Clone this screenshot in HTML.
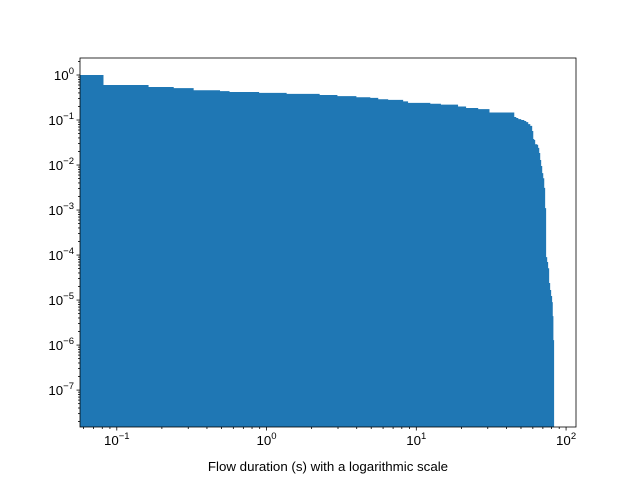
<!DOCTYPE html>
<html><head><meta charset="utf-8"><style>
body{margin:0;background:#fff}
svg{display:block;font-family:"Liberation Sans","DejaVu Sans",sans-serif}
</style></head><body>
<svg id="chart" width="640" height="480" xmlns="http://www.w3.org/2000/svg">
<rect width="640" height="480" fill="#fff"/>
<defs><clipPath id="clip"><rect x="80" y="58" width="496" height="369"/></clipPath></defs>
<g id="plot" clip-path="url(#clip)"></g>
<g id="axes"></g>
<text x="328" y="471" text-anchor="middle" font-size="13.3">Flow duration (s) with a logarithmic scale</text>
</svg>
<script>
const binEdges=[0.0527,0.0815,0.163,0.240,0.326,0.489,0.566,0.892,1.362,2.263,2.973,3.98,4.93,5.57,6.49,8.17,8.81,12.4,14.6,19.0,21.5,25.9,30.8,45.1,46.5,48.0,50.2,52.6,54.2,55.9,57.7,59.4,60.4,61.3,62.2,64.2,65.1,66.2,67.2,68.2,69.3,70.4,71.5,72.5,73.6,74.8,75.9,77.1,78.3,79.5,80.7,81.5,82.3,83.2];
const binValues=[1.0,0.60,0.54,0.51,0.46,0.44,0.42,0.40,0.38,0.36,0.34,0.32,0.31,0.29,0.28,0.26,0.24,0.23,0.22,0.20,0.185,0.175,0.147,0.117,0.111,0.105,0.1,0.095,0.09,0.081,0.074,0.057,0.038,0.036,0.029,0.028,0.024,0.0185,0.0129,0.0095,0.0066,0.0051,0.0031,0.0011,9e-5,7e-5,5.1e-5,2.4e-5,1.67e-5,1.23e-5,9e-6,4.4e-6,1.29e-6];
const xTickValues=[0.1,1,10,100];
const xTickExps=["−1","0","1","2"];
const yTickValues=[1,0.1,0.01,1e-3,1e-4,1e-5,1e-6,1e-7];
const yTickExps=["0","−1","−2","−3","−4","−5","−6","−7"];

const L=80,R=576,T=58,B=427;
const xMin=Math.log10(0.0568),xMax=Math.log10(116.5);
const yMin=-7.82,yMax=0.378;
const sx=v=>L+(Math.log10(v)-xMin)/(xMax-xMin)*(R-L);
const sy=v=>B-(Math.log10(v)-yMin)/(yMax-yMin)*(B-T);
const NS="http://www.w3.org/2000/svg";
const plot=document.getElementById('plot'),axes=document.getElementById('axes');
function mk(tag,attrs,parent){const e=document.createElementNS(NS,tag);for(const k in attrs)e.setAttribute(k,attrs[k]);parent.appendChild(e);return e;}

const n=Math.min(binValues.length,binEdges.length-1);
let d=`M${sx(binEdges[0])},${B+5}`;
for(let i=0;i<n;i++){d+=`L${sx(binEdges[i])},${sy(binValues[i])}L${sx(binEdges[i+1])},${sy(binValues[i])}`;}
d+=`L${sx(binEdges[n])},${B+5}Z`;
const p=mk('path',{d:d,fill:'#1f77b4'},plot);



for(let e=-2;e<=2;e++){for(let m=1;m<10;m++){const v=m*Math.pow(10,e);const x=sx(v);if(x<L||x>R)continue;
 const t=mk('line',{x1:x,x2:x,y1:B,y2:B+(m===1?3.5:2),stroke:'#000','stroke-width':0.8},axes);
 
 }}
xTickValues.forEach((v,i)=>{const x=sx(v);const tx=mk('text',{x:x,y:B+18,'text-anchor':'middle','font-size':13.3},axes);
 
 
 tx.innerHTML=`10<tspan dy="-6" font-size="9.5">${xTickExps[i]}</tspan>`;});
for(let e=-8;e<=0;e++){for(let m=1;m<10;m++){const v=m*Math.pow(10,e);const y=sy(v);if(y<T||y>B)continue;
 const t=mk('line',{x1:L-(m===1?3.5:2),x2:L,y1:y,y2:y,stroke:'#000','stroke-width':0.8},axes);
 
 }}
yTickValues.forEach((v,i)=>{const y=sy(v);const tx=mk('text',{x:L-6,y:y+5,'text-anchor':'end','font-size':13.3},axes);
 
 
 tx.innerHTML=`10<tspan dy="-6" font-size="9.5">${yTickExps[i]}</tspan>`;});
const fr=mk('rect',{x:L,y:T,width:R-L,height:B-T,fill:'none',stroke:'#000','stroke-width':0.8},axes);


</script>
</body></html>
